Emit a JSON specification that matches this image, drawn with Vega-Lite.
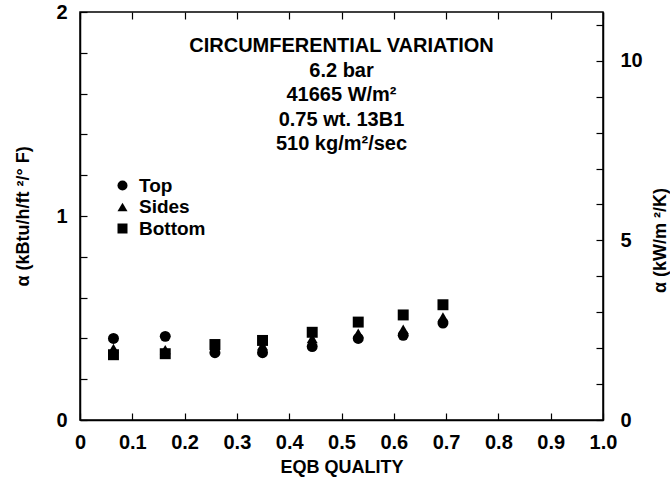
{
  "$schema": "https://vega.github.io/schema/vega-lite/v6.json",
  "width": 523,
  "height": 408,
  "autosize": {"type": "none"},
  "padding": {"left": 80, "top": 12, "right": 67, "bottom": 60},
  "background": "white",
  "config": {
    "font": "Liberation Sans",
    "view": {"stroke": "black", "strokeWidth": 1.5},
    "axis": {
      "labelFont": "Liberation Sans", "labelFontWeight": "bold", "labelFontSize": 20, "labelColor": "black",
      "titleFont": "Liberation Sans", "titleFontWeight": "bold", "titleFontSize": 18, "titleColor": "black",
      "domainColor": "black", "domainWidth": 1.5, "tickColor": "black", "tickWidth": 1.2, "grid": false
    }
  },
  "layer": [
    {
      "data": {"values": [
        {"quality": 0.064, "alpha": 0.40, "position": "Top"},
        {"quality": 0.163, "alpha": 0.41, "position": "Top"},
        {"quality": 0.258, "alpha": 0.33, "position": "Top"},
        {"quality": 0.349, "alpha": 0.33, "position": "Top"},
        {"quality": 0.444, "alpha": 0.36, "position": "Top"},
        {"quality": 0.532, "alpha": 0.40, "position": "Top"},
        {"quality": 0.618, "alpha": 0.415, "position": "Top"},
        {"quality": 0.694, "alpha": 0.475, "position": "Top"},
        {"quality": 0.064, "alpha": 0.35, "position": "Sides"},
        {"quality": 0.163, "alpha": 0.345, "position": "Sides"},
        {"quality": 0.258, "alpha": 0.35, "position": "Sides"},
        {"quality": 0.349, "alpha": 0.365, "position": "Sides"},
        {"quality": 0.444, "alpha": 0.40, "position": "Sides"},
        {"quality": 0.532, "alpha": 0.425, "position": "Sides"},
        {"quality": 0.618, "alpha": 0.445, "position": "Sides"},
        {"quality": 0.694, "alpha": 0.505, "position": "Sides"},
        {"quality": 0.064, "alpha": 0.32, "position": "Bottom"},
        {"quality": 0.163, "alpha": 0.325, "position": "Bottom"},
        {"quality": 0.258, "alpha": 0.37, "position": "Bottom"},
        {"quality": 0.349, "alpha": 0.39, "position": "Bottom"},
        {"quality": 0.444, "alpha": 0.43, "position": "Bottom"},
        {"quality": 0.532, "alpha": 0.48, "position": "Bottom"},
        {"quality": 0.618, "alpha": 0.515, "position": "Bottom"},
        {"quality": 0.694, "alpha": 0.565, "position": "Bottom"}
      ]},
      "mark": {"type": "point", "filled": true, "opacity": 1, "color": "black", "size": 120},
      "encoding": {
        "x": {
          "field": "quality", "type": "quantitative",
          "scale": {"domain": [0, 1], "nice": false},
          "axis": {
            "orient": "bottom", "title": "EQB QUALITY",
            "values": [0, 0.1, 0.2, 0.3, 0.4, 0.5, 0.6, 0.7, 0.8, 0.9, 1],
            "labelExpr": "datum.value == 0 ? '0' : format(datum.value, '.1f')",
            "tickSize": -7, "labelPadding": 19, "labelFlush": false,
            "titleY": 47, "titleBaseline": "middle"
          }
        },
        "y": {
          "field": "alpha", "type": "quantitative",
          "scale": {"domain": [0, 2], "nice": false},
          "axis": {
            "orient": "left", "title": "α (kBtu/h/ft ²/° F)",
            "values": [0, 0.2, 0.4, 0.6, 0.8, 1, 1.2, 1.4, 1.6, 1.8, 2],
            "labelExpr": "datum.value % 1 == 0 ? format(datum.value, 'd') : ''",
            "tickSize": -7, "labelPadding": 20, "labelFlush": false,
            "titleX": -57, "titleAngle": -90, "titleAlign": "center", "titleBaseline": "middle"
          }
        },
        "shape": {
          "field": "position", "type": "nominal",
          "scale": {"domain": ["Top", "Sides", "Bottom"], "range": ["circle", "triangle-up", "square"]},
          "legend": {
            "orient": "none", "legendX": 33, "legendY": 164, "title": null, "padding": 0,
            "symbolSize": 100, "symbolFillColor": "black", "symbolStrokeColor": "black", "symbolOpacity": 1,
            "labelFont": "Liberation Sans", "labelFontWeight": "bold", "labelFontSize": 19, "labelColor": "black",
            "rowPadding": 1.5, "labelOffset": 7
          }
        }
      }
    },
    {
      "data": {"values": [{}]},
      "mark": {
        "type": "text", "font": "Liberation Sans", "fontWeight": "bold", "fontSize": 20,
        "color": "black", "align": "center", "baseline": "top", "lineHeight": 24.5
      },
      "encoding": {
        "x": {
          "datum": 0.5, "type": "quantitative",
          "scale": {"domain": [0, 1], "nice": false},
          "axis": {
            "orient": "top", "title": null, "labels": false, "domain": false, "ticks": true,
            "values": [0, 0.1, 0.2, 0.3, 0.4, 0.5, 0.6, 0.7, 0.8, 0.9, 1],
            "tickSize": -7
          }
        },
        "y": {
          "datum": 10.68, "type": "quantitative",
          "scale": {"domain": [0, 11.356], "nice": false},
          "axis": {
            "orient": "right", "title": "α (kW/m ²/K)",
            "values": [0, 1, 2, 3, 4, 5, 6, 7, 8, 9, 10, 11],
            "labelExpr": "datum.value % 5 == 0 ? format(datum.value, 'd') : ''",
            "tickSize": -7, "labelPadding": 24, "labelFlush": false,
            "titleX": 57, "titleY": 228, "titleAngle": -90, "titleAlign": "center", "titleBaseline": "middle"
          }
        },
        "text": {"value": ["CIRCUMFERENTIAL VARIATION", "6.2 bar", "41665 W/m²", "0.75 wt. 13B1", "510 kg/m²/sec"]}
      }
    }
  ],
  "resolve": {"scale": {"x": "independent", "y": "independent"}, "axis": {"x": "independent"}}
}
